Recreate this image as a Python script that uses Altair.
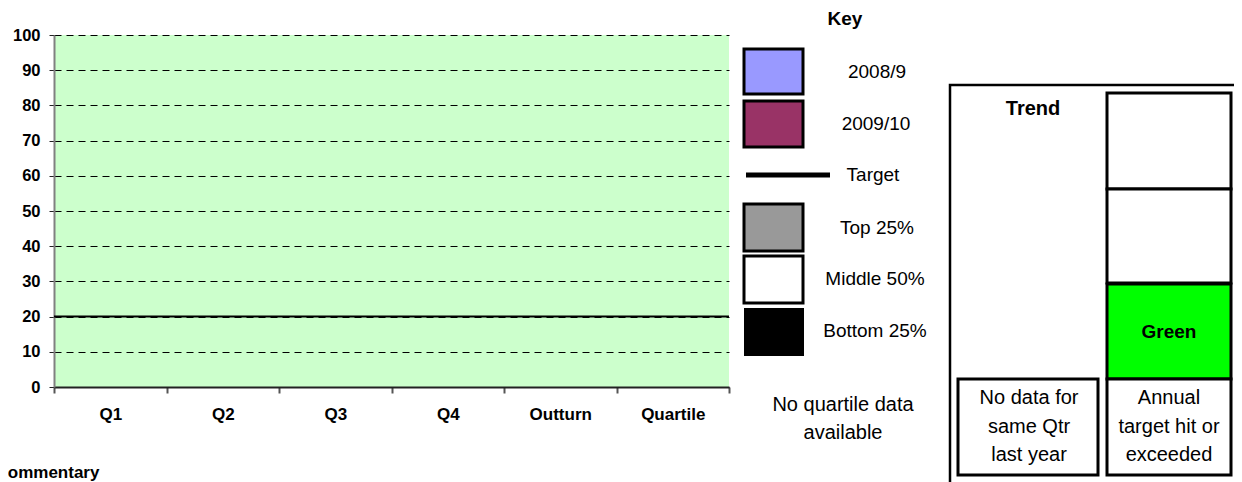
import altair as alt
import pandas as pd

# ---------------- data ----------------
categories = ["Q1", "Q2", "Q3", "Q4", "Outturn", "Quartile"]
values_2008_9 = [None, None, None, None, None, None]      # no bars shown
values_2009_10 = [None, None, None, None, None, None]     # no bars shown
series_names = ["2008/9", "2009/10"]
target_value = [20]
y_ticks = [0, 10, 20, 30, 40, 50, 60, 70, 80, 90, 100]

key_labels = ["2008/9", "2009/10", "Target", "Top 25%", "Middle 50%", "Bottom 25%"]
key_fills = ["#9999FF", "#993366", "#000000", "#999999", "#FFFFFF", "#000000"]
trend_left_text = ["No data for", "same Qtr", "last year"]
trend_right_text = ["Annual", "target hit or", "exceeded"]
status_label = "Green"

FONT = "Liberation Sans"

# ---------------- main chart ----------------
rows = []
for i, c in enumerate(categories):
    rows.append({"category": c, "series": series_names[0], "value": values_2008_9[i]})
    rows.append({"category": c, "series": series_names[1], "value": values_2009_10[i]})
bars_df = pd.DataFrame(rows)

x_axis = alt.Axis(
    title=None, labelAngle=0, tickBand="extent", grid=False,
    domainColor="#222222", domainWidth=2,
    tickColor="#555555", tickWidth=2, tickSize=6,
    labelFont=FONT, labelFontSize=17, labelFontWeight="bold",
    labelColor="#000000", labelPadding=13,
)
y_axis = alt.Axis(
    title=None, values=y_ticks, grid=True, labelOverlap=False,
    gridColor="#000000", gridDash=[7, 5], gridWidth=1, gridOpacity=1,
    domainColor="#808080", domainWidth=2,
    tickColor="#222222", tickSize=5, tickWidth=1,
    labelFont=FONT, labelFontSize=16.5, labelFontWeight="bold",
    labelColor="#000000", labelPadding=9,
)
y_scale = alt.Scale(domain=[0, 100], nice=False)

bars = alt.Chart(bars_df).mark_bar(stroke="black", strokeWidth=1).encode(
    x=alt.X("category:N",
            scale=alt.Scale(domain=categories, paddingInner=0, paddingOuter=0),
            sort=categories, axis=x_axis),
    xOffset=alt.XOffset("series:N", sort=series_names),
    y=alt.Y("value:Q", scale=y_scale, axis=y_axis),
    color=alt.Color("series:N", scale=alt.Scale(domain=series_names,
                                                 range=[key_fills[0], key_fills[1]]),
                    legend=None),
)

target = alt.Chart(pd.DataFrame({"value": target_value})).mark_rule(
    color="#000000", strokeWidth=2
).encode(y=alt.Y("value:Q", scale=y_scale, axis=y_axis))

# ---------------- decorations (key, trend panel) ----------------
one = pd.DataFrame({"a": [0]})
layers = [bars, target]


def box(x, x2, y, y2, fill, stroke="#000000", sw=3):
    kw = dict(fill=fill, strokeWidth=sw)
    if stroke is not None:
        kw["stroke"] = stroke
    return alt.Chart(one).mark_rect(**kw).encode(
        x=alt.value(x), x2=alt.value(x2), y=alt.value(y), y2=alt.value(y2)
    )


def txt(x, y, s, size, bold=False, align="center", baseline="middle"):
    return alt.Chart(one).mark_text(
        text=s, font=FONT, fontSize=size, fontWeight="bold" if bold else "normal",
        color="#000000", align=align, baseline=baseline
    ).encode(x=alt.value(x), y=alt.value(y))


# Key
layers.append(txt(791, -10, "Key", 19, bold=True, baseline="alphabetic"))
layers.append(box(690, 749, 14, 59, key_fills[0]))
layers.append(txt(823, 37, key_labels[0], 19))
layers.append(box(690, 749, 66, 112, key_fills[1]))
layers.append(txt(822, 89, key_labels[1], 19))
layers.append(alt.Chart(one).mark_rule(color=key_fills[2], strokeWidth=5).encode(
    x=alt.value(692), x2=alt.value(776), y=alt.value(140)))
layers.append(txt(819, 140, key_labels[2], 19))
layers.append(box(690, 749, 169, 216, key_fills[3]))
layers.append(txt(823, 193, key_labels[3], 19))
layers.append(box(690, 749, 221, 268, key_fills[4]))
layers.append(txt(821, 244, key_labels[4], 19))
layers.append(box(690, 750, 273, 321, key_fills[5], stroke=None, sw=0))
layers.append(txt(821, 296, key_labels[5], 19))
layers.append(txt(789, 370, "No quartile data", 20))
layers.append(txt(789, 398, "available", 20))

# Trend panel
layers.append(box(896, 1220, 50, 470, "#FFFFFF", sw=2.5))
layers.append(txt(979, 74, "Trend", 20, bold=True))
layers.append(box(1053, 1177, 58, 154, "#FFFFFF", sw=3))
layers.append(box(1053, 1177, 154, 248, "#FFFFFF", sw=3))
layers.append(box(1053, 1177, 249, 344, "#00FF00", sw=3))
layers.append(txt(1115, 297, status_label, 19, bold=True))
layers.append(box(1053, 1177, 344, 440, "#FFFFFF", sw=3))
layers.append(box(904, 1044, 344, 440, "#FFFFFF", sw=3))
for i, s in enumerate(trend_right_text):
    layers.append(txt(1115, 363 + i * 28.5, s, 20))
for i, s in enumerate(trend_left_text):
    layers.append(txt(975, 363 + i * 28.5, s, 20))

# Commentary heading (its first letter falls off the page edge, as in the source)
layers.append(txt(-58.5, 443, "Commentary", 17, bold=True, align="left", baseline="alphabetic"))

chart = alt.layer(*layers).properties(
    width=675,
    height=352,
    padding={"left": 46, "top": 27, "right": 505, "bottom": 95},
    autosize=alt.AutoSizeParams(type="none"),
).configure_view(fill="#CCFFCC", strokeWidth=0)

chart.save("out.html", embed_options={"renderer": "svg", "actions": False})
